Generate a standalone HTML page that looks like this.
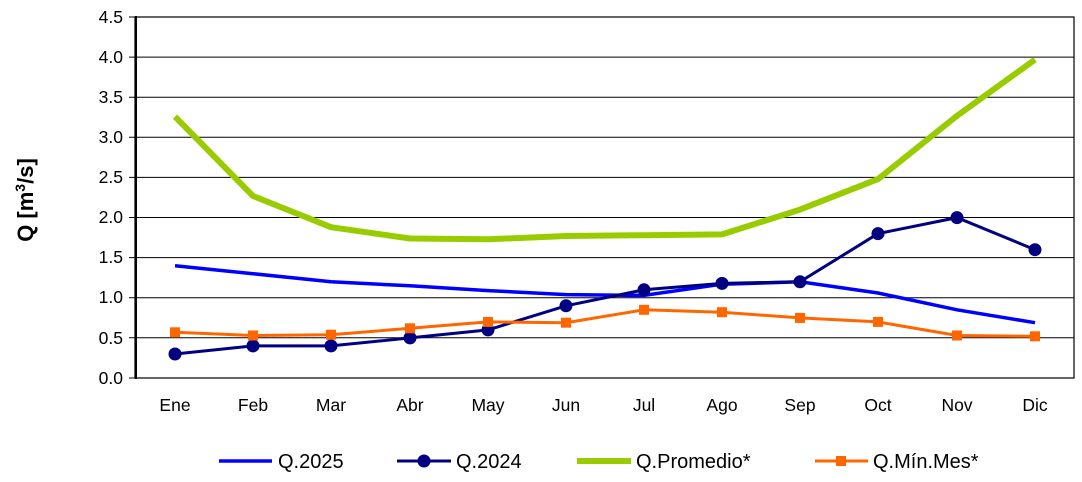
<!DOCTYPE html>
<html><head><meta charset="utf-8"><style>
body{margin:0;background:#fff;}
svg text{font-family:"Liberation Sans",Arial,sans-serif;}
</style></head><body>
<svg width="1082" height="477" viewBox="0 0 1082 477" xmlns="http://www.w3.org/2000/svg">
<rect width="1082" height="477" fill="#fff"/>
<g stroke="#000" stroke-width="1">
<line x1="129" y1="17" x2="1074" y2="17"/>
<line x1="129" y1="57.1" x2="1074" y2="57.1"/>
<line x1="129" y1="97.2" x2="1074" y2="97.2"/>
<line x1="129" y1="137.3" x2="1074" y2="137.3"/>
<line x1="129" y1="177.4" x2="1074" y2="177.4"/>
<line x1="129" y1="217.5" x2="1074" y2="217.5"/>
<line x1="129" y1="257.6" x2="1074" y2="257.6"/>
<line x1="129" y1="297.7" x2="1074" y2="297.7"/>
<line x1="129" y1="337.8" x2="1074" y2="337.8"/>
<line x1="129" y1="378" x2="135" y2="378"/>
</g>
<rect x="135" y="17" width="939" height="361" fill="none" stroke="#000" stroke-width="1.2"/>
<line x1="136" y1="16" x2="136" y2="379" stroke="#000" stroke-width="2"/>
<g font-size="17.5" text-anchor="end" fill="#000">
<text x="123" y="23">4.5</text><text x="123" y="63">4.0</text><text x="123" y="103">3.5</text>
<text x="123" y="143">3.0</text><text x="123" y="183">2.5</text><text x="123" y="223">2.0</text>
<text x="123" y="263">1.5</text><text x="123" y="303">1.0</text><text x="123" y="344">0.5</text>
<text x="123" y="384">0.0</text>
</g>
<g font-size="17.5" text-anchor="middle" fill="#000">
<text x="175" y="411">Ene</text><text x="253" y="411">Feb</text><text x="331" y="411">Mar</text>
<text x="410" y="411">Abr</text><text x="488" y="411">May</text><text x="566" y="411">Jun</text>
<text x="644" y="411">Jul</text><text x="722" y="411">Ago</text><text x="800" y="411">Sep</text>
<text x="878" y="411">Oct</text><text x="957" y="411">Nov</text><text x="1035" y="411">Dic</text>
</g>
<text transform="translate(33,200) rotate(-90)" font-size="22" font-weight="bold" text-anchor="middle">Q [m<tspan font-size="14" dy="-8">3</tspan><tspan dy="8">/s]</tspan></text>
<polyline fill="none" stroke="#99CC00" stroke-width="6" stroke-linejoin="round" points="175,116.6 253,196 331,227.2 410,238.5 488,239.3 566,236 644,235.2 722,234.4 800,209.6 878,179.1 957,115.8 1035,59.6"/>
<polyline fill="none" stroke="#0000FF" stroke-width="3.5" points="175,265.7 253,273.7 331,281.8 410,285.8 488,290.6 566,294.6 644,295.4 722,284.2 800,281.8 878,293 957,309.8 1035,322.7"/>
<polyline fill="none" stroke="#000080" stroke-width="3" points="175,354 253,345.9 331,345.9 410,337.9 488,329.9 566,305.8 644,289.8 722,283.4 800,281.8 878,233.6 957,217.6 1035,249.7"/>
<g fill="#000080">
<circle cx="175" cy="354" r="6.5"/><circle cx="253" cy="345.9" r="6.5"/><circle cx="331" cy="345.9" r="6.5"/>
<circle cx="410" cy="337.9" r="6.5"/><circle cx="488" cy="329.9" r="6.5"/><circle cx="566" cy="305.8" r="6.5"/>
<circle cx="644" cy="289.8" r="6.5"/><circle cx="722" cy="283.4" r="6.5"/><circle cx="800" cy="281.8" r="6.5"/>
<circle cx="878" cy="233.6" r="6.5"/><circle cx="957" cy="217.6" r="6.5"/><circle cx="1035" cy="249.7" r="6.5"/>
</g>
<polyline fill="none" stroke="#FF6600" stroke-width="3" points="175,332.3 253,335.5 331,334.7 410,328.3 488,321.9 566,322.7 644,309.8 722,312.2 800,317.9 878,321.9 957,335.5 1035,336.3"/>
<g fill="#FF6600">
<rect x="170" y="327.3" width="10" height="10"/><rect x="248" y="330.5" width="10" height="10"/><rect x="326" y="329.7" width="10" height="10"/>
<rect x="405" y="323.3" width="10" height="10"/><rect x="483" y="316.9" width="10" height="10"/><rect x="561" y="317.7" width="10" height="10"/>
<rect x="639" y="304.8" width="10" height="10"/><rect x="717" y="307.2" width="10" height="10"/><rect x="795" y="312.9" width="10" height="10"/>
<rect x="873" y="316.9" width="10" height="10"/><rect x="952" y="330.5" width="10" height="10"/><rect x="1030" y="331.3" width="10" height="10"/>
</g>
<g font-size="20" fill="#000">
<line x1="219" y1="461" x2="272" y2="461" stroke="#0000FF" stroke-width="3.5"/>
<text x="278" y="468">Q.2025</text>
<line x1="397" y1="461" x2="451" y2="461" stroke="#000080" stroke-width="3"/>
<circle cx="424" cy="461" r="6.5" fill="#000080"/>
<text x="456" y="468">Q.2024</text>
<line x1="577" y1="461" x2="631" y2="461" stroke="#99CC00" stroke-width="6"/>
<text x="636" y="468">Q.Promedio*</text>
<line x1="815" y1="461" x2="868" y2="461" stroke="#FF6600" stroke-width="3"/>
<rect x="836" y="456" width="10" height="10" fill="#FF6600"/>
<text x="873" y="468">Q.Mín.Mes*</text>
</g>
</svg>
</body></html>
